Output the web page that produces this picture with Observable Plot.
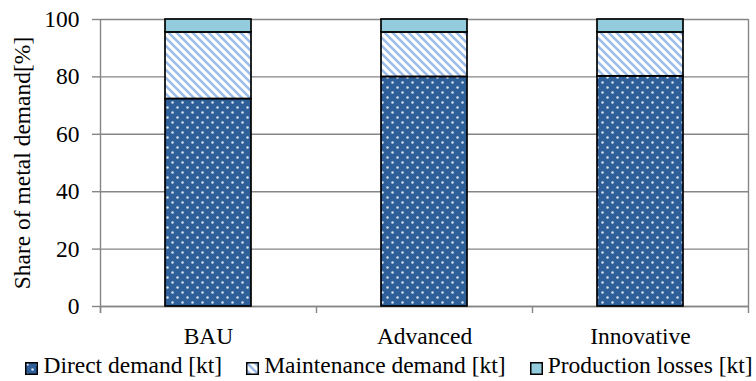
<!DOCTYPE html>
<html>
<head>
<meta charset="utf-8">
<script src="https://cdn.jsdelivr.net/npm/d3@7"></script>
<script src="https://cdn.jsdelivr.net/npm/@observablehq/plot@0.6"></script>
<style>
  html, body { margin: 0; padding: 0; background: #fff; }
  #chart svg { display: block; }
  #chart svg text { font-family: "Liberation Serif", "Times New Roman", serif; }
  .legend {
    display: flex; justify-content: center; align-items: baseline;
    box-sizing: border-box; padding-left: 22px;
    height: 31px; line-height: 31px;
    font-family: "Liberation Serif", "Times New Roman", serif; font-size: 23.5px; color: #000;
    width: 756px; white-space: nowrap;
  }
  .legend .item { display: flex; align-items: center; margin: 0 12px; }
  .legend svg { width: 13px; height: 13px; margin-right: 5px; position: relative; top: 3px; }
</style>
</head>
<body>
<!-- fill patterns shared by the bars and the legend swatches -->
<svg width="0" height="0" style="position:absolute">
  <defs>
    <pattern id="direct" width="10" height="10" patternUnits="userSpaceOnUse">
      <rect width="10" height="10" fill="#2f5f98"/>
      <circle cx="2.5" cy="2.5" r="1.25" fill="#d5e2f2"/>
      <circle cx="7.5" cy="7.5" r="1.25" fill="#d5e2f2"/>
    </pattern>
    <pattern id="maint" width="8" height="8" patternUnits="userSpaceOnUse">
      <rect width="8" height="8" fill="#ffffff"/>
      <path d="M-2,-2 L10,10 M-2,6 L2,10 M6,-2 L10,2" stroke="#9cbde9" stroke-width="2.6"/>
    </pattern>
  </defs>
</svg>
<div id="chart"></div>
<div class="legend" id="legend"></div>
<script>
const categories = ["BAU", "Advanced", "Innovative"];
const series = ["Direct demand [kt]", "Maintenance demand [kt]", "Production losses [kt]"];
const directDemand = [72.3, 80.0, 80.2];
const maintenanceDemand = [23.2, 15.5, 15.3];
const productionLosses = [4.5, 4.5, 4.5];
const yTicks = [0, 20, 40, 60, 80, 100];
const yTitle = "Share of metal demand[%]";
const seriesFills = ["url(#direct)", "url(#maint)", "#93cddd"];

const seriesValues = [directDemand, maintenanceDemand, productionLosses];
const rows = categories.flatMap((category, i) =>
  series.map((s, j) => ({category, series: s, value: seriesValues[j][i]}))
);

const gray = "#868686";
const serif = "'Liberation Serif', 'Times New Roman', serif";
const halfStep = 108;

const chart = Plot.plot({
  width: 756,
  height: 350,
  marginLeft: 100,
  marginRight: 8,
  marginTop: 19,
  marginBottom: 44,
  style: {fontFamily: serif, fontSize: "23.5px", color: "#000", background: "#fff"},
  x: {domain: categories, paddingInner: 0.6, paddingOuter: 0.3, axis: null},
  y: {domain: [0, 100], axis: null},
  color: {domain: series, range: seriesFills},
  marks: [
    Plot.gridY(yTicks, {stroke: gray, strokeOpacity: 1, strokeWidth: 1.4}),
    Plot.axisY(yTicks, {tickSize: 8, tickPadding: 13, stroke: gray, strokeWidth: 1.4, label: null, fontSize: 23.5, fontFamily: serif, fill: "#000"}),
    Plot.ruleY([0], {stroke: gray, strokeWidth: 1.4}),
    // category boundary ticks below the axis
    Plot.ruleX(categories, {x: d => d, dx: -halfStep, insetTop: 287, insetBottom: -7, stroke: gray, strokeWidth: 1.4}),
    // vertical axis line and right border
    Plot.ruleX(categories.slice(0, 1), {x: d => d, dx: -halfStep, insetBottom: -7, stroke: gray, strokeWidth: 1.4}),
    Plot.ruleX(categories.slice(-1), {x: d => d, dx: halfStep, insetBottom: -7, stroke: gray, strokeWidth: 1.4}),
    Plot.barY(rows, Plot.stackY({x: "category", y: "value", fill: "series", order: series, stroke: "#000", strokeWidth: 1.7})),
    Plot.axisX({tickSize: 0, tickPadding: 21, label: null, fontSize: 23.5, fontFamily: serif, fill: "#000"}),
    Plot.text([yTitle], {text: d => d, frameAnchor: "left", rotate: -90, dx: -71, lineAnchor: "bottom", textAnchor: "middle", fontSize: 23.5, fontFamily: serif, fill: "#000"})
  ]
});
document.getElementById("chart").append(chart);

const legend = document.getElementById("legend");
series.forEach((s, j) => {
  const item = document.createElement("span");
  item.className = "item";
  item.innerHTML = `<svg viewBox="0 0 13 13"><rect x="0.75" y="0.75" width="11.5" height="11.5" fill="${seriesFills[j]}" stroke="#000" stroke-width="1.5"/></svg>`;
  item.append(document.createTextNode(s));
  legend.append(item);
});
</script>
</body>
</html>
